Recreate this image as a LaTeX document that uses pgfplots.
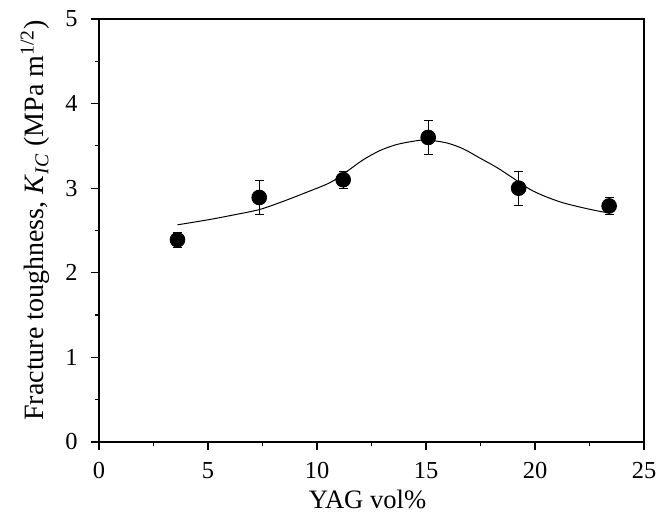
\documentclass[border=0pt]{standalone}
\usepackage{fontspec}
\setmainfont{Liberation Serif}
\usepackage{pgfplots}
\pgfplotsset{compat=1.18}

\begin{document}
\begin{tikzpicture}
\begin{axis}[
  width=272.5pt, height=211.5pt, scale only axis,
  xmin=0, xmax=25, ymin=0, ymax=5,
  xtick={0,5,...,25}, ytick={0,1,...,5},
  minor x tick num=1, minor y tick num=1,
  tick align=outside, tick pos=left,
  major tick length=4.2pt, minor tick length=2.2pt,
  axis line style={line width=0.9pt},
  every tick/.style={black,line width=0.6pt},
  /pgf/number format/assume math mode=true,
  tick label style={font=\fontsize{12.2}{14}\selectfont},
  xticklabel shift=2.5pt, yticklabel shift=3pt,
  xlabel={YAG vol\%},
  ylabel={Fracture toughness, \textit{K}\textsubscript{\textit{IC}} (MPa m\textsuperscript{1/2})},
  xlabel style={font=\fontsize{13.3}{16}\selectfont,
    at={(axis description cs:0.5,0)}, anchor=base, yshift=-33.5pt, xshift=-2pt},
  ylabel style={font=\fontsize{14}{17}\selectfont,
    at={(axis description cs:0,0.5)}, anchor=base, yshift=27.5pt, xshift=5pt},
]
% fitted curve
\addplot[black, line width=0.5pt, smooth] coordinates {
(3.60,2.567) (5.02,2.627) (6.04,2.677) (7.35,2.747) (8.37,2.837) (9.38,2.937)
(10.60,3.066) (11.36,3.196) (12.12,3.336) (12.89,3.445) (13.64,3.515)
(14.42,3.555) (15.03,3.570) (15.95,3.535) (16.71,3.465) (17.48,3.355)
(18.24,3.246) (19.01,3.116) (19.77,2.986) (20.53,2.896) (21.29,2.827)
(22.06,2.777) (22.76,2.737) (23.39,2.707)};
% measured data with error bars
\addplot[only marks, mark=*, mark size=3.7pt, black,
  error bars/.cd, y dir=both, y explicit,
  error mark options={rotate=90, mark size=2.3pt, line width=0.5pt},
  error bar style={line width=0.5pt}]
coordinates {
(3.60,2.39) +- (0,0.09)
(7.35,2.89) +- (0,0.2)
(11.20,3.10) +- (0,0.1)
(15.10,3.60) +- (0,0.2)
(19.25,3.00) +- (0,0.2)
(23.40,2.79) +- (0,0.1)};
\end{axis}
\pgfresetboundingbox
\path ([shift={(-49.5pt,-36pt)}]current axis.south west)
  rectangle ([shift={(12.5pt,9.5pt)}]current axis.north east);
\end{tikzpicture}
\end{document}
